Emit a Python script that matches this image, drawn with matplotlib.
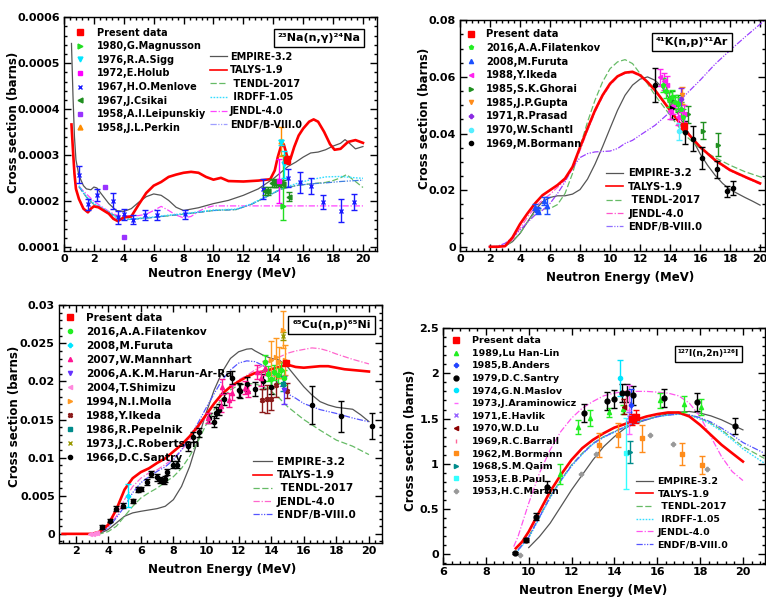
import matplotlib
matplotlib.use('Agg')
import matplotlib.pyplot as plt
from matplotlib.ticker import AutoMinorLocator, MultipleLocator, FuncFormatter
from matplotlib.lines import Line2D

plt.rcParams['font.family'] = ['DejaVu Sans']
plt.rcParams['font.weight'] = 'bold'
plt.rcParams['axes.linewidth'] = 1.0

# ---------------------------------------------------------------- Panel 1: 23Na(n,g)24Na
NA_EMPIRE_E = [0.5, 0.6, 0.7, 0.8, 1.0, 1.3, 1.5, 1.8, 2.0, 2.2, 2.5, 3.0, 3.5, 4.0, 4.5, 5.0, 5.5, 6.0, 6.5, 7.0, 7.5, 8.0,
               9, 10, 11, 12, 13, 14, 15, 15.5, 16, 16.5, 17, 17.5, 18, 18.5, 18.8, 19.0, 19.5, 20]
NA_EMPIRE_XS = [0.000543, 0.00043, 0.00034, 0.00029, 0.000256, 0.000234, 0.000227, 0.000225, 0.000231, 0.000229, 0.000216,
                0.000195, 0.00018, 0.000178, 0.000184, 0.000198, 0.00021, 0.000216, 0.000213, 0.000202, 0.000187, 0.00018,
                0.000186, 0.000195, 0.000202, 0.000213, 0.000227, 0.000249, 0.000276, 0.000285, 0.000296, 0.000305, 0.000307,
                0.000312, 0.00032, 0.000326, 0.000334, 0.000329, 0.000314, 0.000319]
NA_TALYS_E = [0.5, 0.6, 0.7, 0.8, 1.0, 1.3, 1.6, 1.8, 2.0, 2.3, 2.6, 3.0, 3.3, 3.6, 4.0, 4.5, 5.0, 5.5, 6.0, 6.5, 7.0, 7.5,
              8.0, 8.5, 9.0, 9.5, 10.0, 10.5, 11.0, 12.0, 13.0, 13.8, 14.1, 14.3, 14.5, 14.7, 14.85, 15.0, 15.15, 15.4,
              15.7, 16.0, 16.4, 16.7, 17.0, 17.4, 17.8, 18.1, 18.5, 19.0, 19.5, 20.0]
NA_TALYS_XS = [0.000367, 0.000311, 0.00026, 0.000227, 0.000205, 0.000184, 0.000176, 0.000184, 0.000189, 0.000187, 0.000181,
               0.000173, 0.000162, 0.000157, 0.000165, 0.000167, 0.000193, 0.000218, 0.000234, 0.000242, 0.000253, 0.000258,
               0.000262, 0.000264, 0.000262, 0.000253, 0.000247, 0.000251, 0.000244, 0.000243, 0.000245, 0.000248, 0.000267,
               0.000296, 0.000318, 0.000324, 0.000307, 0.000289, 0.000292, 0.000318, 0.000343, 0.000358, 0.000373, 0.000378,
               0.000373, 0.000351, 0.000324, 0.000312, 0.000314, 0.000329, 0.000333, 0.000327]
NA_ENDF_E = [1.0, 1.5, 2.0, 2.5, 3.0, 3.5, 4.0, 5.0, 6.0, 7.0, 8.0, 9.0, 10.0, 11.5, 12.5, 13.5, 14.5, 15.5, 16.5, 17.5, 18.5, 19.5, 20.0]
NA_ENDF_XS = [0.000232, 0.000209, 0.000193, 0.000186, 0.000176, 0.000164, 0.00016, 0.000162, 0.000165, 0.000169, 0.000172,
              0.000176, 0.00018, 0.000182, 0.000193, 0.000209, 0.000226, 0.000234, 0.000238, 0.00024, 0.000243, 0.000245, 0.000246]
NA_IRDFF_E = [1.0, 1.5, 2.0, 2.5, 3.0, 3.5, 4.0, 5.0, 6.0, 7.0, 8.0, 9.0, 10.0, 11.5, 12.5, 13.5, 14.5, 15.5, 16.5, 17.5, 18.5, 19.5, 20.0]
NA_IRDFF_XS = [0.000234, 0.000211, 0.000195, 0.000187, 0.000177, 0.000165, 0.000161, 0.000163, 0.000166, 0.00017, 0.000173,
               0.000177, 0.000181, 0.000183, 0.000194, 0.00021, 0.000227, 0.000238, 0.000247, 0.000253, 0.000254, 0.000251, 0.00025]
NA_TENDL_E = [1.0, 1.5, 2.0, 3.0, 4.0, 6.0, 8.0, 10.0, 11.5, 12.5, 13.5, 14.5, 15.5, 16.5, 17.5, 18.0, 18.5, 18.9, 19.5, 20.0]
NA_TENDL_XS = [0.000232, 0.000209, 0.000193, 0.000176, 0.00016, 0.000165, 0.000172, 0.00018, 0.000182, 0.000193, 0.000209,
               0.000226, 0.000234, 0.000238, 0.000241, 0.000245, 0.000251, 0.000258, 0.000243, 0.00023]
NA_JENDL_E = [1.0, 2.0, 3.0, 3.5, 4.0, 5.0, 5.5, 6.0, 6.5, 7.0, 7.5, 8.0, 8.5, 9.0, 9.5, 10.0, 12.0, 14.0, 16.0, 18.0, 20.0]
NA_JENDL_XS = [0.000232, 0.0002, 0.000178, 0.00017, 0.000168, 0.000169, 0.000172, 0.00018, 0.000189, 0.00018, 0.00017,
               0.000164, 0.000167, 0.000178, 0.000186, 0.00019, 0.00019, 0.00019, 0.00019, 0.00019, 0.00019]

NA_PRESENT_E, NA_PRESENT_XS, NA_PRESENT_ERR = [14.95], [0.00029], [0.000008]
NA_MAGNUSSON_E, NA_MAGNUSSON_XS, NA_MAGNUSSON_ERR = [14.65], [0.00019], [[0.00003], [0.00011]]
NA_SIGG_E, NA_SIGG_XS, NA_SIGG_ERR = [14.55, 14.7], [0.000328, 0.00028], [0.000005, 0.00003]
NA_HOLUB_E, NA_HOLUB_XS, NA_HOLUB_ERR = [14.4], [0.000245], [0.000048]
NA_MENLOVE_E = [1.0, 1.6, 2.2, 3.25, 3.6, 4.0, 4.6, 5.4, 6.2, 8.1, 13.3, 15.0, 15.8, 16.5, 17.3, 18.5, 19.4]
NA_MENLOVE_XS = [0.000258, 0.000194, 0.000213, 0.0002, 0.000165, 0.000172, 0.00016, 0.000171, 0.000171, 0.000172,
                 0.000227, 0.000251, 0.000241, 0.000233, 0.000198, 0.00018, 0.000198]
NA_MENLOVE_ERR = [0.0000185, 0.000012, 0.000013, 0.000017, 0.000015, 0.000012, 0.00001, 0.000011, 0.000011, 0.00001,
                  0.000022, 0.00002, 0.000022, 0.000018, 0.000015, 0.000025, 0.000017]
NA_CSIKAI_E = [13.45, 13.65, 13.9, 14.05, 14.2, 14.35, 14.5, 14.65, 15.05]
NA_CSIKAI_XS = [0.000222, 0.000222, 0.00024, 0.000239, 0.00024, 0.000238, 0.000239, 0.000238, 0.00021]
NA_CSIKAI_ERR = [0.000008] * 8 + [0.00001]
NA_LEIPUNSKIY_E, NA_LEIPUNSKIY_XS = [2.72, 4.0], [0.000232, 0.000122]
NA_PERKIN_E, NA_PERKIN_XS, NA_PERKIN_ERR = [14.5], [0.00033], [0.000032]

# ---------------------------------------------------------------- Panel 2: 41K(n,p)41Ar
K_EMPIRE_E = [2, 3, 3.5, 4, 4.5, 5, 5.5, 6, 6.5, 7, 7.5, 8, 8.5, 9, 9.5, 10, 10.5, 11, 11.5, 12, 12.5, 13, 13.5, 14,
              14.5, 15, 15.5, 16, 16.5, 17, 17.5, 18, 18.5, 19, 19.5, 20]
K_EMPIRE_XS = [0, 0.0002, 0.0018, 0.0047, 0.0088, 0.0129, 0.0159, 0.0174, 0.018, 0.018, 0.0186, 0.0202, 0.0239, 0.0292,
               0.0353, 0.0418, 0.0482, 0.0535, 0.0571, 0.0592, 0.06, 0.0588, 0.0562, 0.0518, 0.0473, 0.0424, 0.0379,
               0.0329, 0.0288, 0.0253, 0.0224, 0.0202, 0.0188, 0.0174, 0.0161, 0.0147]
K_TALYS_E = [2, 2.5, 3, 3.5, 4, 4.5, 5, 5.5, 6, 6.5, 7, 7.5, 8, 8.5, 9, 9.5, 10, 10.5, 11, 11.5, 12, 12.5, 13, 13.5, 14,
             14.5, 15, 15.5, 16, 17, 18, 19, 20]
K_TALYS_XS = [0, 0, 0.0002, 0.0033, 0.008, 0.0118, 0.0153, 0.0182, 0.02, 0.0218, 0.0241, 0.0282, 0.0351, 0.0418, 0.0482,
              0.0535, 0.0576, 0.0602, 0.0615, 0.0618, 0.0606, 0.0582, 0.0553, 0.0518, 0.0482, 0.0447, 0.0412, 0.0382,
              0.0353, 0.0306, 0.0271, 0.0247, 0.0224]
K_TENDL_E = [2, 3, 3.5, 4, 4.5, 5, 5.5, 6, 6.5, 7, 7.5, 8, 8.5, 9, 9.5, 10, 10.5, 11, 11.5, 12, 12.5, 13, 13.5, 14, 14.5,
             15, 16, 17, 18, 19, 20, 20.3]
K_TENDL_XS = [0, 0.0002, 0.0021, 0.0047, 0.0088, 0.0121, 0.0133, 0.0135, 0.0149, 0.0188, 0.0259, 0.0353, 0.0441, 0.0518,
              0.0582, 0.0629, 0.0653, 0.0661, 0.0647, 0.0612, 0.0576, 0.0535, 0.05, 0.0465, 0.0429, 0.0394, 0.0347,
              0.0315, 0.0288, 0.0265, 0.0247, 0.0241]
K_JENDL_E = [2, 3, 3.5, 4, 4.5, 5, 5.5, 6, 6.5, 7, 7.5, 8, 8.5, 9, 9.5, 10, 10.5, 11, 11.5, 12, 12.5, 13, 13.5, 14, 14.5,
             15, 16, 17, 18, 19, 20]
K_JENDL_XS = [0, 0.0002, 0.0025, 0.0065, 0.0105, 0.014, 0.0165, 0.0185, 0.021, 0.0235, 0.0275, 0.034, 0.041, 0.0475,
              0.053, 0.057, 0.06, 0.0612, 0.0615, 0.0603, 0.058, 0.055, 0.0515, 0.048, 0.0445, 0.041, 0.035, 0.0303,
              0.0268, 0.0244, 0.0221]
K_ENDF_E = [1.9, 2.5, 3, 3.5, 4, 4.5, 5, 5.5, 6, 6.5, 7, 7.5, 8, 8.5, 9, 10, 10.5, 11, 11.5, 12, 13, 14, 15, 16, 17, 18,
            19, 20, 20.3]
K_ENDF_XS = [0, 0.0002, 0.0012, 0.0033, 0.0059, 0.0086, 0.0112, 0.0129, 0.0153, 0.0188, 0.0229, 0.0279, 0.0315, 0.0329,
             0.0335, 0.0338, 0.0347, 0.0365, 0.0376, 0.0394, 0.0429, 0.0476, 0.0535, 0.0588, 0.0645, 0.0694, 0.0741,
             0.0786, 0.08]

K_PRESENT_E, K_PRESENT_XS, K_PRESENT_ERR = [14.9], [0.0425], [0.0012]
K_FILATENKOV_E = [13.5, 13.7, 13.9, 14.1, 14.3, 14.5, 14.7, 14.85]
K_FILATENKOV_XS = [0.057, 0.055, 0.052, 0.053, 0.051, 0.0505, 0.0485, 0.046]
K_FILATENKOV_ERR = [0.0025] * 8
K_FURUTA_E = [5.0, 5.1, 5.2, 5.6, 5.8]
K_FURUTA_XS = [0.0141, 0.0132, 0.0127, 0.0161, 0.0144]
K_FURUTA_ERR = [0.001, 0.001, 0.001, 0.0015, 0.003]
K_IKEDA_E = [13.3, 13.6, 13.8, 14.0, 14.2, 14.5, 14.7, 14.95]
K_IKEDA_XS = [0.0598, 0.0585, 0.0572, 0.048, 0.05, 0.046, 0.048, 0.047]
K_IKEDA_ERR = [0.003] * 8
K_GHORAI_E = [14.1, 14.5, 15.2, 16.2, 17.2]
K_GHORAI_XS = [0.052, 0.0505, 0.0468, 0.0409, 0.0361]
K_GHORAI_ERR = [0.003, 0.003, 0.003, 0.003, 0.004]
K_GUPTA_E, K_GUPTA_XS, K_GUPTA_ERR = [14.8], [0.0535], [0.003]
K_PRASAD_E, K_PRASAD_XS, K_PRASAD_ERR = [14.75], [0.0522], [0.004]
K_SCHANTL_E, K_SCHANTL_XS, K_SCHANTL_ERR = [14.6], [0.0408], [0.003]
K_BORMANN_E = [13.0, 14.1, 15.0, 15.5, 16.1, 17.1, 17.8, 18.2]
K_BORMANN_XS = [0.0573, 0.0492, 0.0404, 0.0382, 0.0314, 0.0274, 0.0196, 0.0209]
K_BORMANN_ERR = [0.006, 0.004, 0.004, 0.0045, 0.004, 0.003, 0.002, 0.0025]

# ---------------------------------------------------------------- Panel 3: 65Cu(n,p)65Ni
CU_EMPIRE_E = [1.2, 3.0, 3.5, 4, 4.5, 5, 5.5, 6, 7, 7.5, 8, 8.5, 9, 9.5, 10, 10.5, 11, 11.5, 12, 12.5, 12.8, 13, 13.5,
               14, 14.5, 15, 15.5, 16, 16.5, 17, 17.5, 18, 18.5, 19, 19.5, 20]
CU_EMPIRE_XS = [0, 0, 0.00005, 0.00057, 0.00144, 0.00231, 0.00275, 0.00296, 0.00331, 0.00362, 0.00449, 0.00623, 0.00885,
                0.01234, 0.01582, 0.01887, 0.02127, 0.02302, 0.02389, 0.02424, 0.0243, 0.02402, 0.02345, 0.02302,
                0.0228, 0.02193, 0.02062, 0.01931, 0.01822, 0.01735, 0.01691, 0.01661, 0.01648, 0.01635, 0.01561, 0.01473]
CU_TALYS_E = [1.2, 3.0, 3.5, 4, 4.5, 5, 5.5, 6, 6.5, 7, 7.5, 8, 8.5, 9, 9.5, 10, 10.5, 11, 11.5, 12, 12.5, 13, 13.5, 14,
              14.5, 15, 15.5, 16, 16.5, 17, 17.5, 18, 18.5, 19, 19.5, 20]
CU_TALYS_XS = [0, 0, 0.0003, 0.0012, 0.0032, 0.0058, 0.0073, 0.0081, 0.0086, 0.0093, 0.0099, 0.0108, 0.0117, 0.0128,
               0.0141, 0.0156, 0.0171, 0.0184, 0.0193, 0.02, 0.0206, 0.0211, 0.0213, 0.0216, 0.0219, 0.0222, 0.0219,
               0.0218, 0.0219, 0.022, 0.022, 0.0218, 0.0216, 0.0215, 0.0214, 0.0213]
CU_TENDL_E = [1.2, 3.5, 4, 4.5, 5, 5.5, 6, 6.5, 7, 7.5, 8, 8.5, 9, 9.5, 10, 10.5, 11, 11.5, 12, 12.5, 13, 13.5, 14, 14.5,
              15, 16, 17, 18, 19, 20]
CU_TENDL_XS = [0, 0, 0.0003, 0.001, 0.0023, 0.0036, 0.0047, 0.0054, 0.006, 0.0068, 0.0075, 0.0086, 0.0102, 0.0121,
               0.0143, 0.0163, 0.0178, 0.0189, 0.0195, 0.0197, 0.0197, 0.0193, 0.0187, 0.0178, 0.0167, 0.015, 0.0136,
               0.0123, 0.0115, 0.0104]
CU_JENDL_E = [1.2, 3.0, 3.5, 4, 4.5, 5, 5.5, 6, 6.5, 7, 7.5, 8, 8.5, 9, 9.5, 10, 10.5, 11, 11.5, 12, 12.5, 13, 13.5, 14,
              14.5, 15, 15.5, 16, 16.5, 17, 17.5, 18, 19, 20]
CU_JENDL_XS = [0, 0, 0.0003, 0.001, 0.0023, 0.0045, 0.0062, 0.0073, 0.008, 0.0084, 0.0091, 0.0099, 0.011, 0.0123, 0.0139,
               0.0154, 0.0171, 0.0184, 0.0193, 0.0202, 0.0208, 0.0215, 0.0221, 0.0228, 0.0232, 0.0237, 0.024, 0.0242,
               0.0244, 0.0243, 0.024, 0.0236, 0.0229, 0.0223]
CU_ENDF_E = [1.2, 3.0, 3.5, 4, 4.5, 5, 5.5, 6, 6.5, 7, 7.5, 8, 8.5, 9, 9.5, 10, 10.5, 11, 11.5, 12, 12.5, 13, 13.5, 14,
             14.5, 15, 15.5, 16, 17, 18, 19, 20]
CU_ENDF_XS = [0, 0, 0.0002, 0.0008, 0.0021, 0.0036, 0.0054, 0.0067, 0.0075, 0.0082, 0.0088, 0.0097, 0.011, 0.0128, 0.0145,
              0.0165, 0.0184, 0.0202, 0.0215, 0.0224, 0.0227, 0.0226, 0.0221, 0.0211, 0.0195, 0.0184, 0.0178, 0.0171,
              0.0163, 0.0158, 0.0152, 0.0147]

CU_PRESENT_E, CU_PRESENT_XS, CU_PRESENT_ERR = [14.9], [0.0224], [0.0003]
CU_FILATENKOV_E = [13.6, 13.8, 14.0, 14.2, 14.4, 14.6, 14.8]
CU_FILATENKOV_XS = [0.0225, 0.021, 0.0203, 0.0212, 0.0208, 0.0215, 0.0205]
CU_FILATENKOV_ERR = [0.001] * 7
CU_FURUTA_E, CU_FURUTA_XS, CU_FURUTA_ERR = [5.2], [0.005], [0.0015]
CU_MANNHART_E = [10.1, 10.9, 11.0, 11.4, 11.6, 12.4, 12.6, 13.1, 13.4, 13.6]
CU_MANNHART_XS = [0.0152, 0.0168, 0.0193, 0.0176, 0.0185, 0.0192, 0.0187, 0.0212, 0.0204, 0.0218]
CU_MANNHART_ERR = [0.0007, 0.0008, 0.001, 0.0009, 0.001, 0.0008, 0.0008, 0.0009, 0.001, 0.0009]
CU_HARUN_E, CU_HARUN_XS, CU_HARUN_ERR = [14.8], [0.0189], [0.0018]
CU_SHIMIZU_E = [2.9, 3.05, 3.2, 3.3]
CU_SHIMIZU_XS = [0.0, 0.00002, 0.0001, 0.00005]
CU_MOLLA_E = [14.0, 14.3, 14.5, 14.7, 14.85]
CU_MOLLA_XS = [0.0228, 0.0232, 0.0225, 0.0268, 0.0228]
CU_MOLLA_ERR = [0.0025, 0.0025, 0.002, 0.0024, 0.002]
CU_IKEDA_E = [13.45, 13.75, 14.0, 14.3, 14.95]
CU_IKEDA_XS = [0.0175, 0.0177, 0.0177, 0.0195, 0.0188]
CU_IKEDA_ERR = [0.0015, 0.0018, 0.0015, 0.0015, 0.001]
CU_PEPELNIK_E, CU_PEPELNIK_XS, CU_PEPELNIK_ERR = [14.7], [0.0197], [0.001]
CU_ROBERTSON_E, CU_ROBERTSON_XS, CU_ROBERTSON_ERR = [14.75], [0.026], [0.0005]
CU_SANTRY_E = [3.6, 4.1, 4.5, 4.9, 5.5, 5.8, 6.0, 6.4, 6.6, 7.0, 7.2, 7.4, 7.5, 7.6, 8.0, 8.2, 8.9, 9.2, 9.6, 10.2, 10.5,
               10.6, 10.8, 11.1, 11.6, 12.0, 12.1, 12.5, 13.0, 13.5, 14.0, 16.5, 18.3, 20.2]
CU_SANTRY_XS = [0.0009, 0.0017, 0.0033, 0.0037, 0.0043, 0.0058, 0.0059, 0.0068, 0.0078, 0.0074, 0.0071, 0.0069, 0.0072,
                0.0081, 0.0091, 0.0091, 0.0115, 0.0127, 0.0133, 0.0152, 0.0147, 0.0159, 0.0163, 0.0177, 0.0205, 0.0189,
                0.0187, 0.0197, 0.019, 0.02, 0.0193, 0.0169, 0.0154, 0.0141]
CU_SANTRY_ERR = [0.0002, 0.0002, 0.0003, 0.0003, 0.0003, 0.0003, 0.0003, 0.0004, 0.0004, 0.0004, 0.0004, 0.0004, 0.0004,
                 0.0004, 0.0005, 0.0005, 0.0006, 0.0006, 0.0006, 0.0007, 0.0007, 0.0007, 0.0007, 0.0008, 0.0009, 0.0009,
                 0.0009, 0.0009, 0.0009, 0.001, 0.001, 0.0025, 0.002, 0.0017]

# ---------------------------------------------------------------- Panel 4: 127I(n,2n)126I
I_EMPIRE_E = [10, 10.5, 11, 11.5, 12, 12.5, 13, 13.5, 14, 14.5, 15, 15.5, 16, 16.5, 17, 17.5, 18, 18.5, 19, 19.5, 20]
I_EMPIRE_XS = [0.074, 0.195, 0.343, 0.527, 0.712, 0.878, 1.044, 1.19, 1.30, 1.394, 1.449, 1.486, 1.523, 1.552, 1.571,
               1.578, 1.56, 1.53, 1.486, 1.43, 1.375]
I_TALYS_E = [9.4, 9.7, 10, 10.5, 11, 11.5, 12, 12.5, 13, 13.5, 14, 14.5, 15, 15.5, 16, 16.5, 17, 17.5, 18, 18.5, 19, 19.5, 20]
I_TALYS_XS = [0.066, 0.14, 0.25, 0.472, 0.693, 0.878, 1.044, 1.173, 1.265, 1.338, 1.40, 1.44, 1.486, 1.523, 1.549,
              1.567, 1.567, 1.523, 1.43, 1.32, 1.21, 1.117, 1.025]
I_TENDL_E = [9.5, 10, 10.5, 11, 11.5, 12, 12.5, 13, 13.5, 14, 14.5, 15, 15.5, 16, 16.5, 17, 17.5, 18, 18.5, 19, 19.5, 20, 21]
I_TENDL_XS = [0.05, 0.195, 0.417, 0.638, 0.822, 0.988, 1.117, 1.228, 1.30, 1.357, 1.412, 1.46, 1.493, 1.523, 1.541,
              1.552, 1.541, 1.504, 1.449, 1.375, 1.283, 1.19, 1.06]
I_IRDFF_E = [9.5, 10, 10.5, 11, 11.5, 12, 12.5, 13, 13.5, 14, 14.5, 15, 15.5, 16, 16.5, 17, 17.5, 18, 18.5, 19, 19.5, 20, 21]
I_IRDFF_XS = [0.04, 0.18, 0.40, 0.625, 0.81, 0.975, 1.105, 1.218, 1.292, 1.35, 1.405, 1.455, 1.49, 1.52, 1.538,
              1.548, 1.535, 1.495, 1.438, 1.36, 1.265, 1.165, 1.007]
I_ENDF_E = [9.5, 10, 10.5, 11, 11.5, 12, 12.5, 13, 13.5, 14, 14.5, 15, 15.5, 16, 16.5, 17, 17.5, 18, 18.5, 19, 19.5, 20, 21]
I_ENDF_XS = [0.045, 0.19, 0.41, 0.63, 0.815, 0.98, 1.11, 1.222, 1.296, 1.352, 1.408, 1.457, 1.49, 1.52, 1.538, 1.55,
             1.542, 1.51, 1.462, 1.395, 1.32, 1.235, 1.117]
I_JENDL_E = [9.3, 9.5, 10, 10.5, 11, 11.5, 12, 12.5, 13, 13.5, 14, 14.5, 15, 15.5, 16, 16.5, 17, 17.5, 18, 18.5, 19, 19.5, 20]
I_JENDL_XS = [0.085, 0.195, 0.564, 0.896, 1.154, 1.357, 1.504, 1.615, 1.689, 1.751, 1.781, 1.80, 1.80, 1.80, 1.792,
              1.781, 1.751, 1.67, 1.523, 1.30, 1.08, 0.914, 0.815]

I_PRESENT_E, I_PRESENT_XS, I_PRESENT_ERR = [14.8, 15.0], [1.49, 1.52], [0.06, 0.07]
I_LUHANLIN_E = [11.47, 12.3, 12.87, 13.73, 14.4, 16.14, 17.26, 18.05]
I_LUHANLIN_XS = [0.889, 1.405, 1.504, 1.567, 1.604, 1.70, 1.663, 1.626]
I_LUHANLIN_ERR = [0.11, 0.08, 0.09, 0.05, 0.05, 0.08, 0.09, 0.09]
I_ANDERS_E, I_ANDERS_XS, I_ANDERS_ERR = [14.79], [1.645], [0.18]
I_SANTRY_E = [9.34, 9.89, 10.35, 10.85, 12.56, 13.65, 13.96, 14.34, 14.58, 14.86, 16.3, 17.85, 19.65]
I_SANTRY_XS = [0.011, 0.159, 0.417, 0.749, 1.56, 1.689, 1.718, 1.781, 1.781, 1.755, 1.726, 1.678, 1.42]
I_SANTRY_ERR = [0.01, 0.02, 0.04, 0.06, 0.1, 0.1, 0.1, 0.1, 0.1, 0.1, 0.1, 0.1, 0.09]
I_MASLOV_E, I_MASLOV_XS, I_MASLOV_ERR = [14.24], [1.947], [0.2]
I_ARAMINOWICZ_E, I_ARAMINOWICZ_XS, I_ARAMINOWICZ_ERR = [14.66], [1.6], [0.27]
I_HAVLIK_E, I_HAVLIK_XS, I_HAVLIK_ERR = [14.7], [1.52], [0.05]
I_LUWD_E, I_LUWD_XS, I_LUWD_ERR = [14.43], [1.633], [0.08]
I_BARRALL_E, I_BARRALL_XS, I_BARRALL_ERR = [14.55], [1.7], [0.1]
I_BORMANN_E = [13.28, 14.16, 15.27, 17.17, 18.08]
I_BORMANN_XS = [1.209, 1.32, 1.283, 1.11, 0.988]
I_BORMANN_ERR = [0.13, 0.13, 0.15, 0.12, 0.1]
I_QAIM_E, I_QAIM_XS, I_QAIM_ERR = [14.74], [1.128], [0.12]
I_PAUL_E, I_PAUL_XS, I_PAUL_ERR = [14.52], [1.117], [0.39]
I_MARTIN_E = [9.58, 12.45, 13.15, 15.64, 16.73, 18.32]
I_MARTIN_XS = [-0.007, 0.889, 1.11, 1.32, 1.217, 0.94]

MODEL_NAMES = ['EMPIRE-3.2', 'TALYS-1.9', ' TENDL-2017', ' IRDFF-1.05', 'JENDL-4.0', 'ENDF/B-VIII.0']
TITLES = ['²³Na(n,γ)²⁴Na', '⁴¹K(n,p)⁴¹Ar', '⁶⁵Cu(n,p)⁶⁵Ni', '¹²⁷I(n,2n)¹²⁶I']

# ---------------------------------------------------------------- styles
STYLE = {
    'EMPIRE-3.2': dict(color='#555555', lw=0.9, ls='-'),
    'TALYS-1.9': dict(color='#ff0000', lw=1.9, ls='-'),
    ' TENDL-2017': dict(color='#66bb66', lw=0.9, ls=(0, (5, 2))),
    ' IRDFF-1.05': dict(color='#33ddff', lw=1.0, ls=(0, (1.2, 1.0))),
    'JENDL-4.0': dict(color='#ff55ee', lw=0.9, ls=(0, (5, 1.5, 1, 1.5))),
    'ENDF/B-VIII.0': dict(color='#7777ff', lw=0.9, ls=(0, (5, 1.2, 1, 1.2, 1, 1.2))),
}

W, H = 766, 597
fig = plt.figure(figsize=(W / 100, H / 100), dpi=100)


def add_ax(x0, y0, x1, y1):
    return fig.add_axes([x0 / W, 1 - y1 / H, (x1 - x0) / W, (y1 - y0) / H])


def style_ax(ax, xlim, ylim, xmaj, ymaj, xminor, yminor):
    ax.set_xlim(*xlim)
    ax.set_ylim(*ylim)
    ax.xaxis.set_major_locator(MultipleLocator(xmaj))
    ax.yaxis.set_major_locator(MultipleLocator(ymaj))
    ax.xaxis.set_minor_locator(AutoMinorLocator(xminor))
    ax.yaxis.set_minor_locator(AutoMinorLocator(yminor))
    ax.yaxis.set_major_formatter(FuncFormatter(lambda v, p: '%g' % round(v, 6)))
    ax.xaxis.set_major_formatter(FuncFormatter(lambda v, p: '%g' % round(v, 6)))
    ax.tick_params(which='both', direction='in', top=True, right=True, labelsize=8, width=1)
    ax.tick_params(which='major', length=5, pad=3)
    ax.tick_params(axis='x', which='major', pad=2.5)
    ax.tick_params(which='minor', length=2.5)


def model(ax, name, e, xs, color=None, lw=None):
    st = dict(STYLE[name])
    if color:
        st['color'] = color
    if lw:
        st['lw'] = lw
    ax.plot(e, xs, **st)
    return Line2D([], [], color=st['color'], lw=min(st['lw'], 1.2), ls=st['ls'], label=name)


def data(ax, e, xs, err, color, marker, label, ms=3.5, mew=1.0):
    if err is None:
        ax.plot(e, xs, ls='none', marker=marker, color=color, ms=ms, mew=mew, zorder=5)
    else:
        ax.errorbar(e, xs, yerr=err, fmt=marker, color=color, ms=ms, mew=mew, elinewidth=1.0,
                    capsize=2, capthick=1.0, zorder=5)
    return Line2D([], [], ls='none', marker=marker, color=color, ms=ms, mew=mew, label=label)


def legends(ax, dh, mh, dpos, mpos, fs=7, dhtp=1.2, mhl=1.75, mhtp=0.35, ls=0.36, mls=None):
    l1 = ax.legend(handles=dh, loc='upper left', bbox_to_anchor=dpos, frameon=False, fontsize=fs,
                   borderpad=0, borderaxespad=0, handlelength=1.0, handletextpad=dhtp, labelspacing=ls)
    ax.add_artist(l1)
    ax.legend(handles=mh, loc='upper left', bbox_to_anchor=mpos, frameon=False, fontsize=fs,
              borderpad=0, borderaxespad=0, handlelength=mhl, handletextpad=mhtp,
              labelspacing=ls if mls is None else mls)


def title_box(ax, text, x, y, fs=8):
    ax.text(x, y, text, transform=ax.transAxes, ha='center', va='center', fontsize=fs, zorder=10,
            bbox=dict(boxstyle='square,pad=0.35', fc='white', ec='black', lw=1.0))


def labels(ax, xl, yl, fs=8.5):
    ax.set_xlabel('Neutron Energy (MeV)', fontsize=fs, fontweight='bold')
    ax.set_ylabel('Cross section (barns)', fontsize=fs, fontweight='bold')
    ax.xaxis.set_label_coords(*xl)
    ax.yaxis.set_label_coords(*yl)


# ================================================================ Panel 1
ax1 = add_ax(64, 17, 377, 251)
style_ax(ax1, (0, 20.94), (0.000092, 0.0006005), 2, 0.0001, 5, 5)
mh = [model(ax1, 'EMPIRE-3.2', NA_EMPIRE_E, NA_EMPIRE_XS),
      model(ax1, ' TENDL-2017', NA_TENDL_E, NA_TENDL_XS),
      model(ax1, 'JENDL-4.0', NA_JENDL_E, NA_JENDL_XS, color='#ff44ff'),
      model(ax1, 'ENDF/B-VIII.0', NA_ENDF_E, NA_ENDF_XS, color='#3f7fdf'),
      model(ax1, ' IRDFF-1.05', NA_IRDFF_E, NA_IRDFF_XS),
      model(ax1, 'TALYS-1.9', NA_TALYS_E, NA_TALYS_XS)]
mh = [mh[0], mh[5], mh[1], mh[4], mh[2], Line2D([], [], color='#9f9fff', lw=0.9, ls=STYLE['ENDF/B-VIII.0']['ls'], label='ENDF/B-VIII.0')]
dh = [data(ax1, NA_MENLOVE_E, NA_MENLOVE_XS, NA_MENLOVE_ERR, '#1a1aff', 'x', '1967,H.O.Menlove', ms=3.5),
      data(ax1, NA_CSIKAI_E, NA_CSIKAI_XS, NA_CSIKAI_ERR, '#1f8f1f', '<', '1967,J.Csikai'),
      data(ax1, NA_MAGNUSSON_E, NA_MAGNUSSON_XS, NA_MAGNUSSON_ERR, '#22dd22', '>', '1980,G.Magnusson'),
      data(ax1, NA_HOLUB_E, NA_HOLUB_XS, NA_HOLUB_ERR, '#ff00ff', 's', '1972,E.Holub', ms=3),
      data(ax1, NA_PERKIN_E, NA_PERKIN_XS, NA_PERKIN_ERR, '#ff8c00', '^', '1958,J.L.Perkin'),
      data(ax1, NA_SIGG_E, NA_SIGG_XS, NA_SIGG_ERR, '#00e5ff', 'v', '1976,R.A.Sigg'),
      data(ax1, NA_LEIPUNSKIY_E, NA_LEIPUNSKIY_XS, None, '#9933ff', 's', '1958,A.I.Leipunskiy', ms=3),
      data(ax1, NA_PRESENT_E, NA_PRESENT_XS, NA_PRESENT_ERR, '#ff0000', 's', 'Present data', ms=4.5)]
order = ['Present data', '1980,G.Magnusson', '1976,R.A.Sigg', '1972,E.Holub', '1967,H.O.Menlove', '1967,J.Csikai',
         '1958,A.I.Leipunskiy', '1958,J.L.Perkin']
dh = sorted(dh, key=lambda h: order.index(h.get_label()))
legends(ax1, dh, mh, (0.035, 0.955), (0.466, 0.852), fs=7, dhtp=1.27, mhl=1.75, mhtp=0.3, ls=0.37)
title_box(ax1, TITLES[0], 0.815, 0.91)
labels(ax1, (0.505, -0.068), (-0.14, 0.55))

# ================================================================ Panel 2
ax2 = add_ax(460, 20, 765, 251)
style_ax(ax2, (0, 20.33), (-0.0015, 0.0801), 2, 0.02, 5, 4)
mh = [model(ax2, 'EMPIRE-3.2', K_EMPIRE_E, K_EMPIRE_XS),
      model(ax2, ' TENDL-2017', K_TENDL_E, K_TENDL_XS),
      model(ax2, 'JENDL-4.0', K_JENDL_E, K_JENDL_XS, color='#ff55cc'),
      model(ax2, 'ENDF/B-VIII.0', K_ENDF_E, K_ENDF_XS, color='#9a40ff'),
      model(ax2, 'TALYS-1.9', K_TALYS_E, K_TALYS_XS)]
mh = [mh[0], mh[4], mh[1], mh[2], Line2D([], [], color='#8f6fff', lw=0.9, ls=STYLE['ENDF/B-VIII.0']['ls'], label='ENDF/B-VIII.0')]
dh = [data(ax2, K_FURUTA_E, K_FURUTA_XS, K_FURUTA_ERR, '#1a4fff', '^', '2008,M.Furuta', ms=3),
      data(ax2, K_BORMANN_E, K_BORMANN_XS, K_BORMANN_ERR, '#000000', 'o', '1969,M.Bormann', ms=3),
      data(ax2, K_GHORAI_E, K_GHORAI_XS, K_GHORAI_ERR, '#1f8f1f', '>', '1985,S.K.Ghorai', ms=3),
      data(ax2, K_IKEDA_E, K_IKEDA_XS, K_IKEDA_ERR, '#ff22ee', '<', '1988,Y.Ikeda', ms=3),
      data(ax2, K_FILATENKOV_E, K_FILATENKOV_XS, K_FILATENKOV_ERR, '#22ee22', 'p', '2016,A.A.Filatenkov', ms=3),
      data(ax2, K_GUPTA_E, K_GUPTA_XS, K_GUPTA_ERR, '#ff8c1a', 'v', '1985,J.P.Gupta', ms=3),
      data(ax2, K_PRASAD_E, K_PRASAD_XS, K_PRASAD_ERR, '#8a2be2', 'P', '1971,R.Prasad', ms=3),
      data(ax2, K_SCHANTL_E, K_SCHANTL_XS, K_SCHANTL_ERR, '#55eeff', 'o', '1970,W.Schantl', ms=3),
      data(ax2, K_PRESENT_E, K_PRESENT_XS, K_PRESENT_ERR, '#ff0000', 's', 'Present data', ms=4.5)]
order = ['Present data', '2016,A.A.Filatenkov', '2008,M.Furuta', '1988,Y.Ikeda', '1985,S.K.Ghorai', '1985,J.P.Gupta',
         '1971,R.Prasad', '1970,W.Schantl', '1969,M.Bormann']
dh = sorted(dh, key=lambda h: order.index(h.get_label()))
legends(ax2, dh, mh, (0.02, 0.96), (0.479, 0.358), fs=7.2, dhtp=1.0, mhl=1.7, mhtp=0.5, ls=0.37, mls=0.34)
title_box(ax2, TITLES[1], 0.762, 0.905)
labels(ax2, (0.525, -0.086), (-0.095, 0.576))

# ================================================================ Panel 3
ax3 = add_ax(59, 305, 382, 543)
style_ax(ax3, (0.98, 20.8), (-0.0012, 0.03003), 2, 0.005, 5, 5)
mh = [model(ax3, 'EMPIRE-3.2', CU_EMPIRE_E, CU_EMPIRE_XS),
      model(ax3, ' TENDL-2017', CU_TENDL_E, CU_TENDL_XS),
      model(ax3, 'JENDL-4.0', CU_JENDL_E, CU_JENDL_XS, color='#ff66cc'),
      model(ax3, 'ENDF/B-VIII.0', CU_ENDF_E, CU_ENDF_XS, color='#5555ff'),
      model(ax3, 'TALYS-1.9', CU_TALYS_E, CU_TALYS_XS)]
mh = [mh[0], mh[4], mh[1], mh[2], mh[3]]
dh = [data(ax3, CU_SANTRY_E, CU_SANTRY_XS, CU_SANTRY_ERR, '#000000', 'o', '1966,D.C.Santry', ms=3),
      data(ax3, CU_IKEDA_E, CU_IKEDA_XS, CU_IKEDA_ERR, '#8b1a1a', 'X', '1988,Y.Ikeda', ms=3),
      data(ax3, CU_MANNHART_E, CU_MANNHART_XS, CU_MANNHART_ERR, '#ff1493', '^', '2007,W.Mannhart', ms=3),
      data(ax3, CU_FILATENKOV_E, CU_FILATENKOV_XS, CU_FILATENKOV_ERR, '#22ee22', 'o', '2016,A.A.Filatenkov', ms=3),
      data(ax3, CU_MOLLA_E, CU_MOLLA_XS, CU_MOLLA_ERR, '#ff9922', '>', '1994,N.I.Molla', ms=3),
      data(ax3, CU_HARUN_E, CU_HARUN_XS, CU_HARUN_ERR, '#6633ff', 'v', '2006,A.K.M.Harun-Ar-Ra', ms=3),
      data(ax3, CU_PEPELNIK_E, CU_PEPELNIK_XS, CU_PEPELNIK_ERR, '#008b8b', 's', '1986,R.Pepelnik', ms=3),
      data(ax3, CU_ROBERTSON_E, CU_ROBERTSON_XS, CU_ROBERTSON_ERR, '#999900', 'x', '1973,J.C.Robertson', ms=3),
      data(ax3, CU_SHIMIZU_E, CU_SHIMIZU_XS, None, '#ff88dd', '<', '2004,T.Shimizu', ms=3),
      data(ax3, CU_FURUTA_E, CU_FURUTA_XS, CU_FURUTA_ERR, '#00e5ff', 'P', '2008,M.Furuta', ms=3),
      data(ax3, CU_PRESENT_E, CU_PRESENT_XS, CU_PRESENT_ERR, '#ff0000', 's', 'Present data', ms=4.5)]
order = ['Present data', '2016,A.A.Filatenkov', '2008,M.Furuta', '2007,W.Mannhart', '2006,A.K.M.Harun-Ar-Ra',
         '2004,T.Shimizu', '1994,N.I.Molla', '1988,Y.Ikeda', '1986,R.Pepelnik', '1973,J.C.Robertson', '1966,D.C.Santry']
dh = sorted(dh, key=lambda h: order.index(h.get_label()))
legends(ax3, dh, mh, (0.0177, 0.968), (0.60, 0.361), fs=7.6, dhtp=1.0, mhl=1.8, mhtp=0.47, ls=0.38, mls=0.3)
title_box(ax3, TITLES[2], 0.844, 0.916)
labels(ax3, (0.504, -0.084), (-0.118, 0.53))

# ================================================================ Panel 4
ax4 = add_ax(443, 328, 765, 564)
style_ax(ax4, (6, 21.03), (-0.107, 2.5005), 2, 0.5, 5, 5)
mh = [model(ax4, 'EMPIRE-3.2', I_EMPIRE_E, I_EMPIRE_XS),
      model(ax4, ' TENDL-2017', I_TENDL_E, I_TENDL_XS),
      model(ax4, ' IRDFF-1.05', I_IRDFF_E, I_IRDFF_XS),
      model(ax4, 'ENDF/B-VIII.0', I_ENDF_E, I_ENDF_XS, color='#5555ff'),
      model(ax4, 'JENDL-4.0', I_JENDL_E, I_JENDL_XS, color='#ff55ee'),
      model(ax4, 'TALYS-1.9', I_TALYS_E, I_TALYS_XS)]
mh = [mh[0], mh[5], mh[1], mh[2], mh[4], mh[3]]
dh = [data(ax4, I_MARTIN_E, I_MARTIN_XS, None, '#999999', 'P', '1953,H.C.Martin', ms=3),
      data(ax4, I_BORMANN_E, I_BORMANN_XS, I_BORMANN_ERR, '#ff8c1a', 's', '1962,M.Bormann', ms=2.8),
      data(ax4, I_LUHANLIN_E, I_LUHANLIN_XS, I_LUHANLIN_ERR, '#22ee22', '^', '1989,Lu Han-Lin', ms=3),
      data(ax4, I_SANTRY_E, I_SANTRY_XS, I_SANTRY_ERR, '#000000', 'o', '1979,D.C.Santry', ms=3.5),
      data(ax4, I_MASLOV_E, I_MASLOV_XS, I_MASLOV_ERR, '#00e5ff', 'o', '1974,G.N.Maslov', ms=3),
      data(ax4, I_PAUL_E, I_PAUL_XS, I_PAUL_ERR, '#33ffff', 's', '1953,E.B.Paul', ms=3),
      data(ax4, I_QAIM_E, I_QAIM_XS, I_QAIM_ERR, '#008b8b', '>', '1968,S.M.Qaim', ms=3),
      data(ax4, I_ARAMINOWICZ_E, I_ARAMINOWICZ_XS, I_ARAMINOWICZ_ERR, '#ff66ff', '_', '1973,J.Araminowicz', ms=3.5),
      data(ax4, I_BARRALL_E, I_BARRALL_XS, I_BARRALL_ERR, '#ff6699', '|', '1969,R.C.Barrall', ms=3.5),
      data(ax4, I_LUWD_E, I_LUWD_XS, I_LUWD_ERR, '#8b0000', '<', '1970,W.D.Lu', ms=3),
      data(ax4, I_HAVLIK_E, I_HAVLIK_XS, I_HAVLIK_ERR, '#9966ff', 'x', '1971,E.Havlik', ms=3),
      data(ax4, I_ANDERS_E, I_ANDERS_XS, I_ANDERS_ERR, '#2244ff', 'P', '1985,B.Anders', ms=3),
      data(ax4, I_PRESENT_E, I_PRESENT_XS, I_PRESENT_ERR, '#ff0000', 's', 'Present data', ms=4.5)]
order = ['Present data', '1989,Lu Han-Lin', '1985,B.Anders', '1979,D.C.Santry', '1974,G.N.Maslov',
         '1973,J.Araminowicz', '1971,E.Havlik', '1970,W.D.Lu', '1969,R.C.Barrall', '1962,M.Bormann',
         '1968,S.M.Qaim', '1953,E.B.Paul', '1953,H.C.Martin']
dh = sorted(dh, key=lambda h: order.index(h.get_label()))
legends(ax4, dh, mh, (0.026, 0.965), (0.60, 0.368), fs=6.8, dhtp=1.2, mhl=1.83, mhtp=0.43, ls=0.38)
title_box(ax4, TITLES[3], 0.825, 0.89, fs=6.5)
labels(ax4, (0.466, -0.084), (-0.08, 0.525))

fig.savefig('out.png', dpi=100)
